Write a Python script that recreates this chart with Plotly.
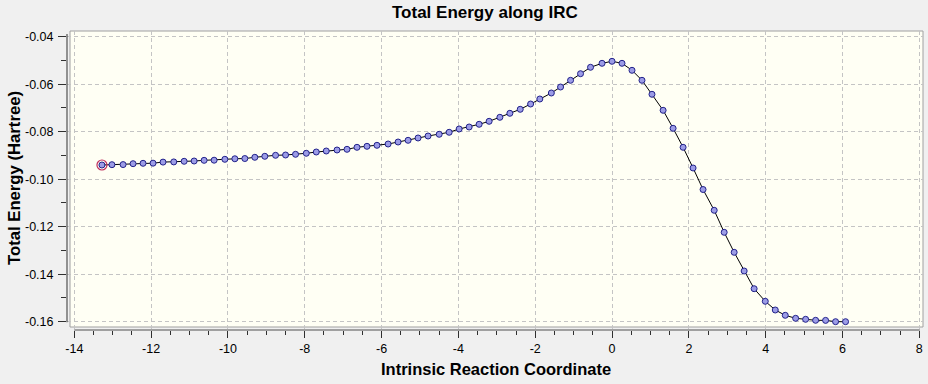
import plotly.graph_objects as go

# Intrinsic reaction coordinate values
irc_x = [
    -13.28, -13.02, -12.73, -12.47, -12.21, -11.95, -11.69, -11.41, -11.14, -10.88,
    -10.62, -10.36, -10.08, -9.82, -9.56, -9.30, -9.04, -8.76, -8.50, -8.24,
    -7.96, -7.70, -7.44, -7.16, -6.90, -6.64, -6.38, -6.12, -5.83, -5.57,
    -5.31, -5.05, -4.79, -4.50, -4.24, -3.98, -3.72, -3.46, -3.20, -2.92,
    -2.66, -2.39, -2.12, -1.88, -1.58, -1.34, -1.08, -0.82, -0.56, -0.26,
    0.00, 0.26, 0.52, 0.78, 1.04, 1.33, 1.59, 1.85, 2.11, 2.37,
    2.66, 2.92, 3.18, 3.44, 3.70, 3.99, 4.25, 4.51, 4.78, 5.04,
    5.30, 5.56, 5.82, 6.08,
]

# Total energy in Hartree
energy = [
    -0.09402, -0.09389, -0.09385, -0.09347, -0.09331, -0.09325, -0.09280, -0.09272, -0.09246, -0.09234,
    -0.09206, -0.09200, -0.09162, -0.09140, -0.09130, -0.09078, -0.09036, -0.08994, -0.08981, -0.08952,
    -0.08909, -0.08855, -0.08813, -0.08771, -0.08741, -0.08657, -0.08615, -0.08573, -0.08518, -0.08434,
    -0.08362, -0.08265, -0.08181, -0.08109, -0.08025, -0.07886, -0.07802, -0.07688, -0.07562, -0.07394,
    -0.07225, -0.07057, -0.06834, -0.06623, -0.06371, -0.06118, -0.05836, -0.05558, -0.05288, -0.05120,
    -0.05036, -0.05120, -0.05415, -0.05836, -0.06425, -0.07099, -0.07857, -0.08657, -0.09528, -0.10434,
    -0.11309, -0.12236, -0.13078, -0.13865, -0.14611, -0.15141, -0.15507, -0.15731, -0.15857, -0.15899,
    -0.15941, -0.15945, -0.16000, -0.16000,
]

x_ticks = [-14, -12, -10, -8, -6, -4, -2, 0, 2, 4, 6, 8]
x_tick_labels = ["-14", "-12", "-10", "-8", "-6", "-4", "-2", "0", "2", "4", "6", "8"]
y_ticks = [-0.04, -0.06, -0.08, -0.10, -0.12, -0.14, -0.16]
y_tick_labels = ["-0.04", "-0.06", "-0.08", "-0.10", "-0.12", "-0.14", "-0.16"]

FONT = "Liberation Sans, Arial, sans-serif"
W, H = 928, 384
L, R, T, B = 67, 923, 31, 330  # plot area in px
PW, PH = R - L, B - T

def px_x(p):
    return (p - L) / PW

def px_y(p):
    return (B - p) / PH

fig = go.Figure()

fig.add_trace(go.Scatter(
    x=irc_x, y=energy, mode="lines+markers",
    line=dict(color="#000000", width=1),
    marker=dict(size=6, color="#9c9ce6", line=dict(color="#22228a", width=1)),
    showlegend=False, hoverinfo="skip",
))
# highlighted current point
fig.add_trace(go.Scatter(
    x=irc_x[:1], y=energy[:1], mode="markers",
    marker=dict(size=10, symbol="circle-open", color="#c0305e", line=dict(width=1.2)),
    showlegend=False, hoverinfo="skip",
))

# x range so that -14 -> 74.3px and 8 -> 919.3px
sx = (919.3 - 74.3) / 22.0
x0 = -14 - (74.3 - L) / sx
x1 = 8 + (R - 919.3) / sx
sy = (321.7 - 36.7) / 0.12
y1 = -0.04 + (36.7 - T) / sy
y0 = -0.16 - (B - 321.7) / sy

grid = dict(showgrid=True, gridcolor="#c4c4c4", gridwidth=1, griddash="4px,3px")

fig.update_xaxes(
    range=[x0, x1], tickmode="array", tickvals=x_ticks, ticktext=x_tick_labels,
    ticks="outside", ticklen=7, tickwidth=1, tickcolor="#303030",
    minor=dict(dtick=0.5, tick0=0, ticks="outside", ticklen=4, tickcolor="#303030", showgrid=False),
    showline=False, zeroline=False,
    tickfont=dict(family=FONT, size=12.5, color="#000000"),
    **grid,
)
fig.update_yaxes(
    range=[y0, y1], tickmode="array", tickvals=y_ticks, ticktext=y_tick_labels,
    ticks="outside", ticklen=8, tickwidth=1, tickcolor="#303030",
    minor=dict(dtick=0.01, tick0=0, ticks="outside", ticklen=5, tickcolor="#303030", showgrid=False),
    showline=False, zeroline=False, ticklabelstandoff=2,
    tickfont=dict(family=FONT, size=12.5, color="#000000"),
    **grid,
)

shapes = [
    # plot box
    dict(type="rect", xref="paper", yref="paper", layer="below",
         x0=px_x(70), x1=px_x(923), y0=px_y(327), y1=px_y(31),
         fillcolor="#fffff4", line=dict(color="#a0a0a0", width=1)),
    # x axis line
    dict(type="line", xref="paper", yref="paper", layer="above",
         x0=px_x(74.3), x1=px_x(919.8), y0=px_y(B), y1=px_y(B),
         line=dict(color="#505050", width=1.2)),
    # y axis line
    dict(type="line", xref="paper", yref="paper", layer="above",
         x0=px_x(L), x1=px_x(L), y0=px_y(322.2), y1=px_y(34),
         line=dict(color="#505050", width=1.2)),
]

annotations = [
    dict(text="<b>Total Energy along IRC</b>", xref="paper", yref="paper",
         x=px_x(485), y=px_y(12), xanchor="center", yanchor="middle", showarrow=False,
         font=dict(family=FONT, size=17, color="#000000")),
    dict(text="<b>Intrinsic Reaction Coordinate</b>", xref="paper", yref="paper",
         x=px_x(495.5), y=px_y(369), xanchor="center", yanchor="middle", showarrow=False,
         font=dict(family=FONT, size=16.5, color="#000000")),
    dict(text="<b>Total Energy (Hartree)</b>", xref="paper", yref="paper",
         x=px_x(14), y=px_y(178), xanchor="center", yanchor="middle", showarrow=False,
         textangle=-90, font=dict(family=FONT, size=16.7, color="#000000")),
]

fig.update_layout(
    width=W, height=H,
    margin=dict(l=L, r=W - R, t=T, b=H - B, pad=0),
    paper_bgcolor="#f0f0f0", plot_bgcolor="#f0f0f0",
    shapes=shapes, annotations=annotations,
    font=dict(family=FONT), hovermode=False, dragmode=False,
)

fig.write_html(
    "out.html",
    config={"displayModeBar": False, "staticPlot": True},
    post_script="document.body.style.margin='0';document.body.style.padding='0';"
                "document.body.style.overflow='hidden';document.body.style.background='#f0f0f0';",
)
